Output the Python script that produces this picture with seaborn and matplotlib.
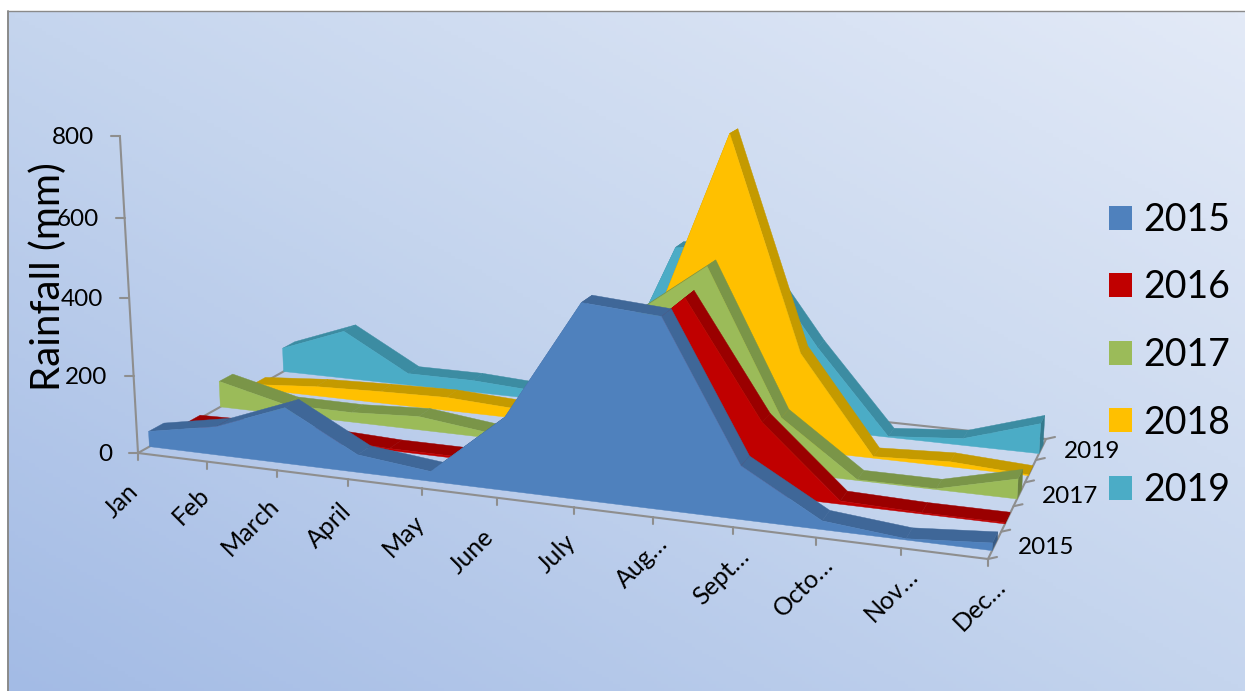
import numpy as np
import matplotlib
matplotlib.use("Agg")
import matplotlib.pyplot as plt
from matplotlib.colors import LinearSegmentedColormap
from matplotlib.patches import Patch
import seaborn as sns

months = ["Jan", "Feb", "March", "April", "May", "June", "July", "Aug…", "Sept…", "Octo…", "Nov…", "Dec…"]
years = ["2015", "2016", "2017", "2018", "2019"]
rain_2015 = [40, 74, 144, 45, 25, 182, 479, 464, 130, 21, 3, 18]
rain_2016 = [8, 12, 12, 5, 5, 90, 295, 465, 180, 8, 3, 3]
rain_2017 = [71, 27, 26, 36, 14, 120, 359, 500, 138, 2, 2, 50]
rain_2018 = [12, 26, 32, 36, 26, 109, 294, 796, 253, 4, 13, 2]
rain_2019 = [68, 136, 33, 33, 22, 33, 454, 475, 221, 2, 18, 79]
rain = [rain_2015, rain_2016, rain_2017, rain_2018, rain_2019]
value_ticks = [0, 200, 400, 600, 800]
depth_labels = ["2015", "2017", "2019"]

label_dx = [-4, -1, -1, -1, -1, -7, -2, 11, 12, 13, 13, 14]
label_dy = [35, 30, 32, 28, 30, 36, 31, 23, 25, 23.5, 24, 23]

face_colors = sns.color_palette(["#4F81BD", "#C00000", "#9BBB59", "#FFC000", "#4BACC6"])
top_colors = sns.color_palette(["#3F6798", "#9A0000", "#7A9548", "#C49A00", "#3C8CA2"])
side_colors = sns.color_palette(["#365A85", "#850000", "#6A8140", "#AA8500", "#347A8E"])

sns.set_theme(style="white", font="Lato")
W, H = 1245, 691
fig = plt.figure(figsize=(W / 100, H / 100), dpi=100, facecolor="white")
ax = fig.add_axes([0, 0, 1, 1])


def homography(src, dst):
    A = []
    for (a, b), (x, y) in zip(src, dst):
        A.append([a, b, 1, 0, 0, 0, -x * a, -x * b, -x])
        A.append([0, 0, 0, a, b, 1, -y * a, -y * b, -y])
    return np.linalg.svd(np.array(A, float))[2][-1].reshape(3, 3)


floor = homography([(0, 0), (11, 0), (11, 5), (0, 5)],
                   [(138, 453), (988, 559), (1046, 439), (304, 360)])
floor = floor / floor[2, 2]
up = -317 / (800 * (8500 - 136)) * np.array([597, 8500, 1.0])


def proj(m, z, v=0.0):
    p = floor @ np.array([m, z, 1.0]) + v * up
    return np.array([p[0] / p[2], p[1] / p[2]])


# background
ny, nx = 200, 360
gx, gy = np.meshgrid(np.linspace(0, 1, nx), np.linspace(0, 1, ny))
cmap = LinearSegmentedColormap.from_list("bg", ["#A3BBE5", "#C5D5EE", "#E3EAF7"])
ax.imshow(0.5 * (gx + gy), cmap=cmap, extent=(8, W, H, 11), origin="lower", aspect="auto", zorder=0,
          vmin=0, vmax=1)
grey = "#8E8E8E"
ax.plot([8, 8], [H, 11], color="#8A8A8A", lw=1.4, zorder=1)
ax.plot([8, W], [11, 11], color="#8A8A8A", lw=1.0, zorder=1)


def edge(a, b, lw=1.5):
    sns.lineplot(x=[a[0], b[0]], y=[a[1], b[1]], sort=False, estimator=None, color=grey,
                 lw=lw, ax=ax, legend=False, zorder=2)


# floor and axes
edge(proj(0, 0), proj(11, 0))
edge(proj(11, 0), proj(11, 5))
edge(proj(11, 5), proj(0, 5))
edge(proj(0, 5), proj(0, 0))
edge(proj(0, 0), proj(0, 0, 800))
for v in value_ticks:
    p = proj(0, 0, v)
    edge(p, p + [-9, 0])
    ax.text(p[0] - 26, p[1] + 1.5, str(v), ha="right", va="center", fontsize=17.5, color="black", zorder=6)
for m, name in enumerate(months):
    p = proj(m, 0)
    edge(p, p + [0, 7])
    ax.text(p[0] + label_dx[m], p[1] + label_dy[m], name, rotation=45, rotation_mode="anchor", ha="right",
            va="center", fontsize=18, color="black", zorder=6)
for z in range(6):
    p = proj(11, z)
    edge(p, p + [9, -2])
for i, name in enumerate(depth_labels):
    p = proj(11, 2 * i + 0.5)
    ax.text(p[0] + 23, p[1] + 2, name, ha="left", va="center", fontsize=17.5, color="black", zorder=6)

# slabs, back to front
front_gap, slab = 0.30, 0.41
for s in range(len(years) - 1, -1, -1):
    vals = rain[s]
    zf, zb = s + front_gap, s + front_gap + slab
    ftop = np.array([proj(m, zf, v) for m, v in enumerate(vals)])
    btop = np.array([proj(m, zb, v) for m, v in enumerate(vals)])
    fbase = np.array([proj(m, zf) for m in range(len(vals))])
    bbase = np.array([proj(m, zb) for m in range(len(vals))])
    zo = 3 + (len(years) - s) * 0.1
    cap = np.vstack([ftop[-1], btop[-1], bbase[-1], fbase[-1]])
    ax.fill(cap[:, 0], cap[:, 1], color=side_colors[s], lw=0.3, zorder=zo)
    for i in range(len(vals) - 1):
        q = np.vstack([ftop[i], ftop[i + 1], btop[i + 1], btop[i]])
        ax.fill(q[:, 0], q[:, 1], color=top_colors[s], lw=0.3, zorder=zo)
    poly = np.vstack([ftop, fbase[::-1]])
    ax.fill(poly[:, 0], poly[:, 1], color=face_colors[s], lw=0.3, zorder=zo + 0.01)

handles = [Patch(facecolor=face_colors[i], edgecolor="none", label=y) for i, y in enumerate(years)]
ax.legend(handles=handles, loc="center left", bbox_to_anchor=(1109 / W, 1 - 355 / H), frameon=False,
          fontsize=27, handlelength=0.62, handleheight=0.62, handletextpad=0.29, labelspacing=0.84,
          borderpad=0, borderaxespad=0, labelcolor="black")

ax.text(48, 277, "Rainfall (mm)", rotation=90, ha="center", va="center", fontsize=29, color="black", zorder=5)

ax.set_xlim(0, W)
ax.set_ylim(H, 0)
ax.axis("off")
fig.savefig("out.png", dpi=100, facecolor="white")
